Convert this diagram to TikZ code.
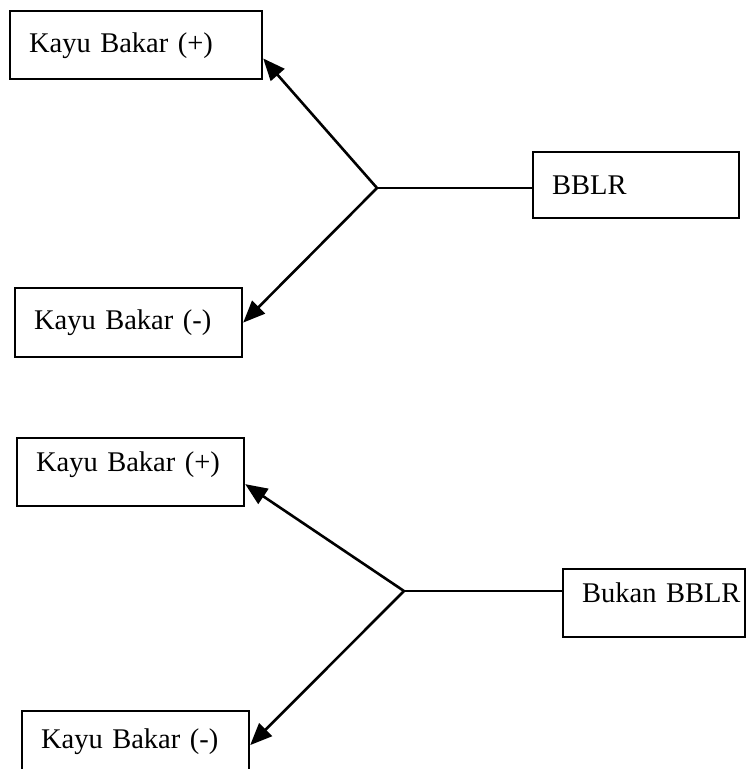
\documentclass[tikz,border=0pt]{standalone}
\usepackage{fontspec}
\setmainfont{Liberation Serif}
\usetikzlibrary{arrows.meta,positioning,calc}

\begin{document}
\begin{tikzpicture}[x=1pt, y=-1pt,
  kotak/.style={draw, line width=2.2pt, anchor=north west, align=left,
    text width=#1, minimum height=68pt, inner xsep=19pt, inner ysep=0pt,
    font=\fontsize{28.5}{33}\selectfont},
  panah/.style={line width=2.6pt, -{Triangle[length=22pt, width=18pt]}},
  garis/.style={line width=2pt}]
  \useasboundingbox (0,0) rectangle (745,769);
  % Kelompok BBLR
  \node[kotak=214pt, text depth=4pt] (kp1) at (9,10) {Kayu~Bakar~(+)};
  \node[kotak=189pt, minimum height=69pt] (kp2) at (14,287) {Kayu~Bakar~(-)};
  \node[kotak=168pt, minimum height=66pt] (bblr) at (532,151) {BBLR};
  \coordinate (c1) at (377,188);
  \draw[garis] (c1) -- (c1 -| bblr.west);
  \draw[panah] (c1) -- (kp1.-6);
  \draw[panah] (c1) -- (kp2.east);
  % Kelompok bukan BBLR
  \node[kotak=189pt, text depth=20pt] (kp3) at (16,437) {Kayu~Bakar~(+)};
  \node[kotak=189pt, text depth=13pt] (kp4) at (21,710) {Kayu~Bakar~(-)};
  \node[kotak=144pt, text depth=20pt] (bb) at (562,568) {Bukan~BBLR};
  \coordinate (c2) at (404,591);
  \draw[garis] (c2) -- (c2 -| bb.west);
  \draw[panah] (c2) -- (kp3.-6);
  \draw[panah] (c2) -- (kp4.east);
\end{tikzpicture}
\end{document}
